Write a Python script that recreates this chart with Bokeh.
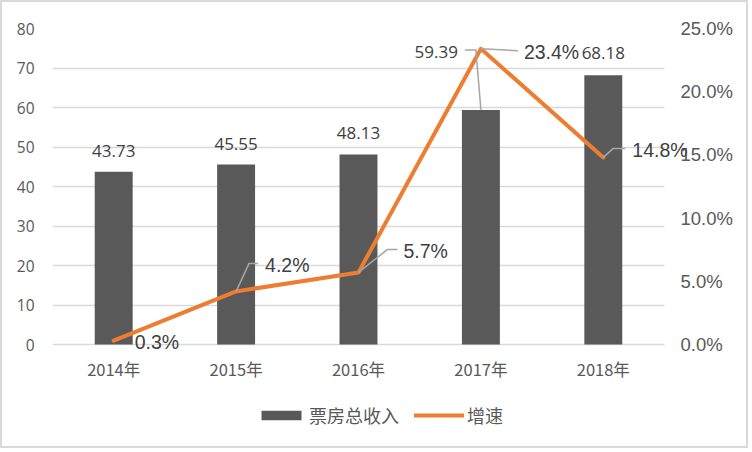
import numpy as np
from bokeh.plotting import figure
from bokeh.models import (Range1d, LinearAxis, FixedTicker, Grid,
                          PrintfTickFormatter, Legend, LegendItem, LabelSet, ColumnDataSource)
from bokeh.core.properties import value
from bokeh.embed import file_html
from bokeh.resources import INLINE

# ---------------- data ----------------
years = ["2014年", "2015年", "2016年", "2017年", "2018年"]
revenue = [43.73, 45.55, 48.13, 59.39, 68.18]          # 票房总收入
growth = [0.3, 4.2, 5.7, 23.4, 14.8]                   # 增速 (%)
revenue_labels = ["43.73", "45.55", "48.13", "59.39", "68.18"]
growth_labels = ["0.3%", "4.2%", "5.7%", "23.4%", "14.8%"]
left_ticks = [0, 10, 20, 30, 40, 50, 60, 70, 80]
right_ticks = [0, 5, 10, 15, 20, 25]

# ---------------- label layout (screen px, y down) ----------------
rev_dx = [0, 0, 0, -23, 0]
rev_dy = [-21, -21, -21, -58, -22]
rev_align = ["center", "center", "center", "right", "center"]
rev_leaders = [None, None, None, [(0, 0), (-5, -60), (-16, -60)], None]

gr_dx = [21, 29, 45, 43, 29]
gr_dy = [1, -26, -21, 3, -7]
gr_leaders = [None, [(0, 0), (13, -28), (22, -28)], [(0, 0), (29, -23), (39, -23)],
              [(0, 0), (37, 2)], [(0, 0), (10, -9), (22, -9)]]

BAR = "#595959"
ORANGE = "#ED7D31"
GRID = "#d9d9d9"
LEADER = "#a6a6a6"
TXT = "#404040"

W, H = 748, 448            # plus a 2px css border -> 752 x 452
PLOT_L, PLOT_R, PLOT_T, PLOT_B = 50, 662, 26, 342   # plotting area (figure px)
EXT_R, EXT_B = 28, 92                                 # room for labels / legend past the area
L_MAX, R_MAX = 80, 25
n = len(years)
px_x = (PLOT_R - PLOT_L) / n
px_l = (PLOT_B - PLOT_T) / L_MAX
px_r = (PLOT_B - PLOT_T) / R_MAX

p = figure(width=W, height=H,
           x_range=Range1d(0, n + EXT_R / px_x),
           y_range=Range1d(-EXT_B / px_l, L_MAX),
           output_backend="svg", toolbar_location=None,
           min_border_left=PLOT_L, min_border_right=W - PLOT_R - EXT_R,
           min_border_top=PLOT_T, min_border_bottom=H - PLOT_B - EXT_B)
p.styles = {"border": "2px solid #d9d9d9"}
p.outline_line_color = None
p.background_fill_color = "white"
p.border_fill_color = "white"
p.extra_y_ranges = {"pct": Range1d(-EXT_B / px_r, R_MAX)}

# axes
ya = p.yaxis[0]
ya.ticker = FixedTicker(ticks=left_ticks)
ya.axis_line_color = None
ya.major_tick_line_color = None
ya.minor_tick_line_color = None
ya.major_label_standoff = 12
ya.major_label_text_font = "Open Sans"
ya.major_label_text_font_size = "15.5px"
ya.major_label_text_color = BAR

xa = p.xaxis[0]
xa.ticker = FixedTicker(ticks=[i + 0.5 for i in range(n)])
xa.major_label_overrides = {i + 0.5: y for i, y in enumerate(years)}
xa.axis_line_color = None
xa.major_tick_line_color = None
xa.minor_tick_line_color = None
xa.major_label_standoff = 6 - EXT_B
xa.major_label_text_font = "Noto Sans CJK SC"
xa.major_label_text_font_size = "16.5px"
xa.major_label_text_color = BAR

ra = LinearAxis(y_range_name="pct", ticker=FixedTicker(ticks=right_ticks),
                formatter=PrintfTickFormatter(format="%.1f%%"))
ra.axis_line_color = None
ra.major_tick_line_color = None
ra.minor_tick_line_color = None
ra.major_label_standoff = 10 - EXT_R
ra.major_label_text_font = "Liberation Sans"
ra.major_label_text_font_size = "18.5px"
ra.major_label_text_color = BAR
p.add_layout(ra, "right")

# grid: horizontal lines only across the plotting area
p.xgrid.grid_line_color = None
p.ygrid.grid_line_color = None
grid_kw = dict(dimension=1, ticker=FixedTicker(ticks=left_ticks),
               grid_line_color=GRID, grid_line_width=1.5)
if "cross_bounds" in Grid.properties():
    p.add_layout(Grid(cross_bounds=(0, n), **grid_kw))
else:
    p.segment(x0=[0] * len(left_ticks), x1=[n] * len(left_ticks), y0=left_ticks,
              y1=left_ticks, line_color=GRID, line_width=1.5, level="underlay")

# marks
xpos = [i + 0.5 for i in range(n)]
bars = p.vbar(x=xpos, top=revenue, width=0.31, fill_color=BAR, line_color=None)
line = p.line(x=xpos, y=growth, y_range_name="pct", line_color=ORANGE, line_width=4,
              line_cap="round", line_join="round")

def leader_xy(vals, leaders, px_y):
    xs, ys = [], []
    for i, (v, ld) in enumerate(zip(vals, leaders)):
        if ld is None:
            continue
        xs.append([i + 0.5 + dx / px_x for dx, dy in ld])
        ys.append([v - dy / px_y for dx, dy in ld])
    return xs, ys

xs, ys = leader_xy(revenue, rev_leaders, px_l)
p.multi_line(xs=xs, ys=ys, line_color=LEADER, line_width=1.5)
xs, ys = leader_xy(growth, gr_leaders, px_r)
p.multi_line(xs=xs, ys=ys, y_range_name="pct", line_color=LEADER, line_width=1.5)

# data labels
rev_src = ColumnDataSource(dict(x=xpos, y=revenue, t=revenue_labels, dx=rev_dx,
                                dy=[-d for d in rev_dy], al=rev_align))
p.add_layout(LabelSet(x="x", y="y", text="t", source=rev_src, x_offset="dx", y_offset="dy",
                      text_align="al", text_baseline="middle", text_font=value("Open Sans"),
                      text_font_size="17px", text_color=TXT))
gr_src = ColumnDataSource(dict(x=xpos, y=growth, t=growth_labels, dx=gr_dx,
                               dy=[-d for d in gr_dy]))
p.add_layout(LabelSet(x="x", y="y", text="t", source=gr_src, x_offset="dx", y_offset="dy",
                      y_range_name="pct", text_align="left", text_baseline="middle",
                      text_font=value("Liberation Sans"), text_font_size="19.5px",
                      text_color=TXT))

legend = Legend(items=[LegendItem(label="票房总收入", renderers=[bars]),
                       LegendItem(label="增速", renderers=[line])],
                location=(204, 8), orientation="horizontal",
                glyph_width=50, glyph_height=12, label_standoff=3, spacing=15,
                padding=0, margin=0, border_line_color=None, background_fill_alpha=0,
                label_text_font="Noto Sans CJK SC", label_text_font_size="18px",
                label_text_color=BAR)
p.add_layout(legend, "center")

open("out.html", "w").write(file_html(p, INLINE))
